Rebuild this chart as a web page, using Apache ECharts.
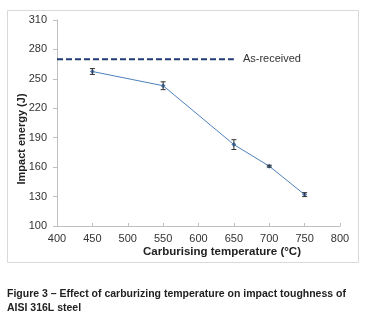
<html>
<head>
    <meta http-equiv="Content-Type" content="text/html; charset=utf-8" />
    <title>Impact energy vs carburising temperature</title>
    <style>
        body { margin: 0; background: #fff; }
        #container { width: 367px; height: 318px; }
    </style>
</head>
<body>
    <div id="container"></div>
    <script src="https://cdn.jsdelivr.net/npm/echarts@6/dist/echarts.min.js"></script>
    <script type="text/javascript">
    // data
    var temps = [450, 550, 650, 700, 750];
    var energy = [257.5, 243, 183, 161, 132];
    var errs = [3, 4, 5, 1, 2];
    var asReceivedX = [400, 650];
    var asReceived = 270;
    var yTicks = [100, 130, 160, 190, 220, 250, 280, 310];

    var lineData = [];
    var barData = [];
    for (var i = 0; i < temps.length; i++) {
        lineData.push([temps[i], energy[i]]);
        barData.push([temps[i], energy[i] - errs[i], energy[i] + errs[i]]);
    }
    var refData = [];
    for (var j = 0; j < asReceivedX.length; j++) {
        refData.push([asReceivedX[j], asReceived]);
    }

    var font = 'Arial, "Liberation Sans", sans-serif';

    var myChart = echarts.init(document.getElementById('container'), null, { renderer: 'canvas' });

    myChart.setOption({
        animation: false,
        backgroundColor: '#fff',
        grid: { left: 57, right: 27, top: 20, bottom: 92 },
        xAxis: {
            type: 'value',
            min: 400, max: 800, interval: 50,
            axisLine: { lineStyle: { color: '#bfbfbf', width: 1 } },
            axisTick: { show: true, inside: true, length: 3, lineStyle: { color: '#bfbfbf' } },
            axisLabel: { fontFamily: font, fontSize: 11, color: '#333', margin: 7 },
            splitLine: { show: false }
        },
        yAxis: {
            type: 'value',
            min: 100, max: 310,
            axisLine: { show: true, lineStyle: { color: '#bfbfbf', width: 1 } },
            axisTick: { show: true, length: 4, customValues: yTicks, lineStyle: { color: '#bfbfbf' } },
            axisLabel: { fontFamily: font, fontSize: 11, color: '#333', margin: 10, customValues: yTicks },
            splitLine: { show: false }
        },
        graphic: [
            {
                type: 'rect',
                shape: { x: 7.5, y: 10.5, width: 351, height: 252 },
                style: { fill: null, stroke: '#d9d9d9', lineWidth: 1 },
                z: -1
            },
            {
                type: 'text',
                x: 22, y: 139,
                rotation: Math.PI / 2,
                style: {
                    text: 'Impact energy (J)',
                    font: 'bold 11px ' + font,
                    fill: '#222',
                    align: 'center',
                    verticalAlign: 'middle'
                }
            },
            {
                type: 'text',
                x: 222, y: 252,
                style: {
                    text: 'Carburising temperature (°C)',
                    font: 'bold 11.5px ' + font,
                    fill: '#222',
                    align: 'center',
                    verticalAlign: 'middle'
                }
            },
            {
                type: 'text',
                left: 7, top: 287,
                style: {
                    text: 'Figure 3 – Effect of carburizing temperature on impact toughness of\nAISI 316L steel',
                    font: 'bold 10.5px "Liberation Sans Narrow", "Arial Narrow", Arial, sans-serif',
                    fill: '#222',
                    lineHeight: 14
                }
            }
        ],
        series: [
            {
                type: 'line',
                name: 'As-received',
                data: refData,
                symbol: 'none',
                lineStyle: { color: '#1f3c74', width: 2, type: [6, 3] },
                label: { show: false },
                endLabel: {
                    show: true,
                    formatter: 'As-received',
                    fontFamily: font, fontSize: 11, color: '#333',
                    distance: 9
                },
                z: 2
            },
            {
                type: 'line',
                name: 'Impact energy',
                data: lineData,
                symbol: 'diamond',
                symbolSize: 5,
                itemStyle: { color: '#4f81bd' },
                lineStyle: { color: '#4f81bd', width: 1 },
                z: 3
            },
            {
                type: 'custom',
                name: 'error',
                data: barData,
                renderItem: function(params, api) {
                    var x = api.value(0);
                    var lo = api.coord([x, api.value(1)]);
                    var hi = api.coord([x, api.value(2)]);
                    var w = 2.5;
                    var st = { stroke: '#333', lineWidth: 1 };
                    return {
                        type: 'group',
                        children: [
                            { type: 'line', shape: { x1: lo[0], y1: lo[1], x2: hi[0], y2: hi[1] }, style: st },
                            { type: 'line', shape: { x1: lo[0] - w, y1: lo[1], x2: lo[0] + w, y2: lo[1] }, style: st },
                            { type: 'line', shape: { x1: hi[0] - w, y1: hi[1], x2: hi[0] + w, y2: hi[1] }, style: st }
                        ]
                    };
                },
                z: 4
            }
        ]
    });
    </script>
</body>
</html>
